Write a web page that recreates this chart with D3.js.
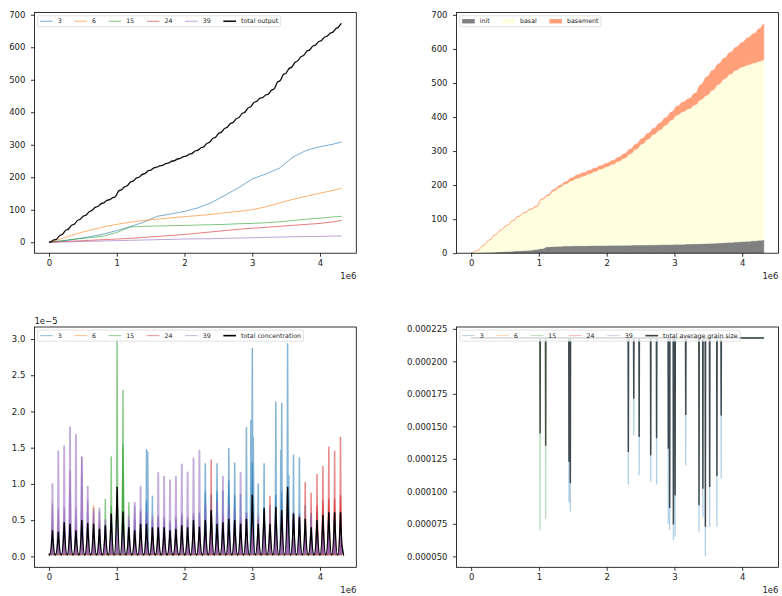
<!DOCTYPE html>
<html>
<head>
<meta charset="utf-8">
<script src="https://cdn.jsdelivr.net/npm/d3@7"></script>
<style>
  body { margin: 0; background: #fff; }
  svg { display: block; }
  text { font-family: "DejaVu Sans", sans-serif; }
</style>
</head>
<body>
<svg id="fig" width="782" height="596"></svg>
<script>
// ---- series labels / colours -------------------------------------------
const seriesLabels = ["3", "6", "15", "24", "39"];
const seriesColors = ["#1f77b4", "#ff7f0e", "#2ca02c", "#d62728", "#9467bd"];
const xTicks = [0, 1, 2, 3, 4];          // time, units of 1e6
const tEnd = 4.32;

// ---- cumulative output per grain size (time in 1e6) ---------------------
const outTimes = [0, 0.2, 0.4, 0.6, 0.8, 1.0, 1.2, 1.4, 1.6, 1.8, 2.0, 2.2, 2.4, 2.6, 2.8, 3.0, 3.2, 3.4, 3.6, 3.8, 4.0, 4.2, 4.32];
const out3  = [0, 4, 10, 17, 25, 36, 48, 62, 80, 87, 95, 106, 122, 145, 168, 195, 210, 228, 262, 283, 294, 302, 309];
const out6  = [0, 12, 26, 37, 47, 55, 62, 67, 71, 75, 79, 82, 86, 91, 95, 100, 109, 121, 132, 142, 151, 160, 166];
const out15 = [0, 5, 10, 14, 19, 30, 47, 49, 50, 51, 52, 53, 54, 55, 57, 58, 60, 63, 67, 71, 74, 78, 80];
const out24 = [0, 2, 4, 6, 8, 10, 12, 15, 18, 21, 24, 28, 32, 36, 40, 43, 46, 49, 52, 55, 58, 63, 67];
const out39 = [0, 1, 2, 3, 4, 5, 6, 7, 8, 9, 10, 10.5, 11, 12, 13, 14, 15, 16, 17, 17.5, 18, 19, 19.5];

// total output, sampled between consecutive pulses
const totalTimes = [0, 0.093, 0.180, 0.267, 0.354, 0.441, 0.527, 0.614, 0.701, 0.788, 0.875, 0.961, 1.048, 1.135, 1.222, 1.308, 1.395, 1.482, 1.569, 1.656, 1.743, 1.829, 1.916, 2.003, 2.090, 2.177, 2.263, 2.350, 2.437, 2.524, 2.611, 2.697, 2.784, 2.871, 2.958, 3.044, 3.131, 3.218, 3.305, 3.392, 3.478, 3.565, 3.652, 3.739, 3.826, 3.912, 3.999, 4.086, 4.173, 4.259, 4.320];
const totalOutput = [0, 8, 23, 39, 54, 69, 82, 96, 109, 120, 130, 138, 160, 172, 187, 199, 210, 221, 230, 236, 243, 250, 257, 264, 272, 282, 292, 306, 321, 337, 352, 367, 382, 398, 415, 432, 444, 454, 470, 495, 518, 537, 556, 573, 590, 605, 619, 633, 645, 660, 673];

// output by source (stacked), same sampling as totalOutput
const initVol     = [0, 0.5, 1, 2, 3, 4, 5, 6, 7, 8, 9, 11, 14, 19, 20, 20.5, 21, 21.5, 21.8, 22, 22.2, 22.4, 22.6, 22.8, 23, 23.2, 23.4, 23.6, 23.8, 24, 24.3, 24.6, 24.9, 25.2, 25.5, 26, 26.5, 27, 27.5, 28, 28.5, 29.2, 30, 31, 32, 33, 34, 35, 36.5, 38, 39];
const basalVol    = [0, 7.5, 22, 36.5, 50.5, 64, 76, 89, 101, 110.5, 119.5, 125, 144, 150, 163, 173.5, 183, 191.5, 198.2, 204, 210.8, 217.6, 224.4, 231.2, 238, 246.8, 255.6, 268.4, 282.2, 297, 310.7, 324.4, 337.1, 350.8, 365.5, 380, 389.5, 397, 408.5, 423, 435.5, 449.8, 466, 481, 494, 505, 513, 518, 522, 526, 529];
const basementVol = [0, 0, 0, 0.5, 0.5, 1, 1, 1, 1, 1.5, 1.5, 2, 2, 3, 4, 5, 6, 8, 10, 10, 10, 10, 10, 10, 11, 12, 13, 14, 15, 16, 17, 18, 20, 22, 24, 26, 28, 30, 34, 44, 54, 58, 60, 61, 64, 67, 72, 80, 86.5, 96, 105];
const stackLabels = ["init", "basal", "basement"];
const stackColors = ["#808080", "#ffffe0", "#ffa07a"];

// ---- concentration pulses (values in 1e-5) -------------------------------
const cycleTimes = [0.050, 0.137, 0.224, 0.310, 0.397, 0.484, 0.571, 0.658, 0.744, 0.831, 0.918, 1.005, 1.092, 1.178, 1.265, 1.352, 1.439, 1.526, 1.612, 1.699, 1.786, 1.873, 1.960, 2.046, 2.133, 2.220, 2.307, 2.394, 2.480, 2.567, 2.654, 2.741, 2.828, 2.914, 3.001, 3.088, 3.175, 3.262, 3.348, 3.435, 3.522, 3.609, 3.696, 3.782, 3.869, 3.956, 4.043, 4.130, 4.216, 4.303];
const conc3  = [0.30, 0.30, 0.35, 0.35, 0.30, 0.40, 0.35, 0.35, 0.30, 0.35, 0.35, 0.40, 0.45, 0.45, 0.50, 0.60, 1.47, 0.83, 0.55, 0.50, 0.45, 0.50, 0.55, 0.50, 0.55, 0.60, 1.28, 0.85, 1.28, 0.90, 1.49, 1.29, 0.85, 1.78, 2.87, 1.00, 1.28, 0.70, 2.13, 2.11, 2.93, 1.40, 1.36, 0.70, 0.60, 0.60, 0.55, 0.60, 0.60, 0.55];
const conc6  = [0.30, 0.30, 0.30, 0.30, 0.30, 0.45, 0.40, 0.70, 0.45, 0.30, 0.30, 0.30, 0.30, 0.30, 0.30, 0.30, 0.30, 0.30, 0.30, 0.30, 0.30, 0.30, 0.30, 0.30, 0.30, 0.30, 0.30, 0.30, 0.30, 0.30, 0.30, 0.30, 0.30, 0.30, 0.35, 0.30, 0.30, 0.30, 0.35, 0.35, 0.35, 0.30, 0.30, 0.30, 0.30, 0.30, 0.30, 0.30, 0.30, 0.30];
const conc15 = [0.25, 0.25, 0.25, 0.25, 0.25, 0.25, 0.25, 0.25, 0.30, 0.79, 1.37, 3.015, 2.29, 0.74, 0.30, 0.25, 0.25, 0.25, 0.20, 0.20, 0.20, 0.20, 0.20, 0.20, 0.20, 0.20, 0.20, 0.20, 0.20, 0.20, 0.20, 0.20, 0.20, 0.20, 0.20, 0.20, 0.20, 0.20, 0.20, 0.20, 0.20, 0.20, 0.20, 0.20, 0.20, 0.20, 0.20, 0.20, 0.20, 0.20];
const conc24 = [0.15, 0.15, 0.15, 0.15, 0.15, 0.15, 0.15, 0.15, 0.15, 0.20, 0.20, 0.20, 0.20, 0.20, 0.20, 0.20, 0.25, 0.25, 0.25, 0.25, 0.25, 0.25, 0.30, 0.30, 0.30, 0.30, 0.35, 1.33, 0.40, 0.40, 0.45, 0.45, 0.45, 0.50, 0.50, 0.50, 0.50, 0.83, 0.50, 0.50, 0.55, 0.55, 0.55, 1.02, 0.87, 1.13, 1.24, 1.51, 1.45, 1.64];
const conc39 = [1.00, 1.45, 1.52, 1.78, 1.68, 1.37, 0.96, 0.66, 0.66, 0.50, 0.55, 0.45, 0.50, 0.55, 0.74, 0.96, 0.60, 0.55, 1.15, 1.10, 1.05, 1.10, 1.27, 1.16, 1.35, 1.46, 0.70, 0.60, 0.75, 1.10, 0.70, 0.65, 1.15, 0.60, 0.55, 0.55, 0.60, 0.55, 0.55, 0.60, 0.65, 0.60, 0.55, 0.50, 0.55, 0.50, 0.50, 0.50, 0.50, 0.45];
// second, lower and broader pulse inside the same cycle (null where absent)
const conc3Inner  = [null, null, null, null, null, null, null, null, null, null, null, null, null, null, null, null, 0.77, null, null, null, null, null, null, null, null, null, 0.90, null, 0.90, null, 1.05, 0.85, null, 0.60, 1.30, null, 0.65, null, 0.85, 0.90, 0.95, 0.60, 0.60, null, null, null, null, null, null, null];
const conc15Inner = [null, null, null, null, null, null, null, null, null, null, 0.70, 0.90, 1.55, null, null, null, null, null, null, null, null, null, null, null, null, null, null, null, null, null, null, null, null, null, null, null, null, null, null, null, null, null, null, null, null, null, null, null, null, null];
const conc24Inner = [null, null, null, null, null, null, null, null, null, null, null, null, null, null, null, null, null, null, null, null, null, null, null, null, null, null, null, 0.60, null, null, null, null, null, null, null, null, null, null, null, null, null, null, null, null, null, 0.70, 0.78, 0.80, 0.80, 0.85];
const conc39Inner = [0.73, 0.66, 0.68, 1.19, 0.66, 1.37, 0.77, 0.62, 0.62, 0.45, 0.45, 0.40, 0.45, 0.50, 0.70, 0.65, 0.50, 0.50, 0.55, 0.55, 0.50, 0.55, 0.60, 0.55, 0.60, 0.60, 0.55, 0.50, 0.55, 0.60, 0.55, 0.50, 0.55, 0.50, 0.45, 0.45, 0.50, 0.45, 0.45, 0.50, 0.50, 0.45, 0.45, 0.40, 0.45, 0.40, 0.40, 0.40, 0.40, 0.35];
// additional short pulses off the cycle times: [time, value]
const conc3Extra = [[1.457, 1.44], [2.980, 1.88], [3.016, 1.64], [3.422, 1.46], [3.540, 1.11]];
const concFloors = [0.025, 0.025, 0.025, 0.025, 0.035];
const concTotal = [0.36, 0.34, 0.47, 0.45, 0.36, 0.50, 0.46, 0.45, 0.38, 0.43, 0.59, 0.96, 0.62, 0.40, 0.36, 0.45, 0.45, 0.40, 0.40, 0.40, 0.36, 0.38, 0.43, 0.40, 0.50, 0.41, 0.50, 0.64, 0.45, 0.47, 0.52, 0.50, 0.45, 0.52, 0.85, 0.45, 0.67, 0.45, 0.68, 0.64, 0.96, 0.59, 0.54, 0.52, 0.40, 0.50, 0.57, 0.61, 0.61, 0.61];
const concValley = 0.02;
const concStart = 0.04;
const concEnd = 0.18;

// ---- average grain size: level and dips [time, value] --------------------
const grainLevel = 0.000218;
const grain3Dips = [[1.444, 0.0000917], [1.464, 0.0000845], [2.320, 0.0001052], [2.400, 0.000143], [2.480, 0.0001123], [2.650, 0.0001072], [2.737, 0.0001052], [2.910, 0.000075], [2.930, 0.0000702], [2.985, 0.0000625], [3.010, 0.000065], [3.167, 0.000120], [3.363, 0.0000689], [3.420, 0.000080], [3.457, 0.000050], [3.520, 0.0000727], [3.627, 0.0000727], [3.690, 0.0001098]];
const grain15Dips = [[1.018, 0.0000699], [1.100, 0.0000789]];
const grainTotalDips = [[1.018, 0.0001445], [1.100, 0.0001351], [1.444, 0.0001228], [1.464, 0.0001062], [2.320, 0.0001303], [2.400, 0.0001712], [2.480, 0.0001418], [2.650, 0.0001277], [2.737, 0.0001408], [2.910, 0.0001328], [2.930, 0.0000873], [2.985, 0.0000745], [3.010, 0.000097], [3.167, 0.0001588], [3.363, 0.0000893], [3.420, 0.0001021], [3.457, 0.0000727], [3.520, 0.0001034], [3.627, 0.0001118], [3.690, 0.0001583]];

// ---- layout --------------------------------------------------------------
const svg = d3.select("#fig");
const boxes = {
  out:   { l: 34.4,  r: 356.3, t: 12.6, b: 253.2 },
  stack: { l: 456.5, r: 778.5, t: 12.6, b: 253.2 },
  conc:  { l: 34.4,  r: 356.3, t: 327,  b: 567.3 },
  grain: { l: 456.5, r: 778.5, t: 327,  b: 567.3 }
};
const TICK_FS = 8.5, LEG_FS = 6.3, INK = "#222";

function padded(lo, hi) { const m = 0.05 * (hi - lo); return [lo - m, hi + m]; }

function clipFor(name, box) {
  svg.append("clipPath").attr("id", "clip-" + name)
    .append("rect").attr("x", box.l).attr("y", box.t)
    .attr("width", box.r - box.l).attr("height", box.b - box.t);
  return svg.append("g").attr("clip-path", `url(#clip-${name})`);
}

function styleAxis(sel) {
  sel.select(".domain").remove();
  sel.attr("font-family", "DejaVu Sans").attr("font-size", TICK_FS);
  sel.selectAll(".tick line").attr("stroke", "#000").attr("stroke-width", 0.8);
  sel.selectAll(".tick text").attr("fill", INK);
}

function drawAxes(box, x, y, yTicks, yFmt) {
  const g = svg.append("g");
  g.append("g").attr("transform", `translate(0,${box.b})`)
    .call(d3.axisBottom(x).tickValues(xTicks).tickFormat(d3.format("d")).tickSize(3.5).tickPadding(3.4))
    .call(styleAxis);
  g.append("g").attr("transform", `translate(${box.l},0)`)
    .call(d3.axisLeft(y).tickValues(yTicks).tickFormat(yFmt).tickSize(3.5).tickPadding(5.5))
    .call(styleAxis);
  g.append("rect").attr("x", box.l).attr("y", box.t)
    .attr("width", box.r - box.l).attr("height", box.b - box.t)
    .attr("fill", "none").attr("stroke", "#000").attr("stroke-width", 0.8);
  g.append("text").attr("x", box.r).attr("y", box.b + 25.5).attr("text-anchor", "end")
    .attr("font-size", TICK_FS).attr("fill", INK).text("1e6");
  return g;
}

function drawLegend(box, items) {
  const fs = LEG_FS, pad = 0.4 * fs, hl = 2 * fs, htp = 0.8 * fs, cs = 2 * fs;
  const x0 = box.l + 0.5 * fs, y0 = box.t + 0.5 * fs, h = 11, cy = y0 + h / 2;
  const g = svg.append("g");
  const frame = g.append("rect").attr("x", x0).attr("y", y0).attr("height", h).attr("rx", 1.5)
    .attr("fill", "#fff").attr("fill-opacity", 0.8).attr("stroke", "#cccccc").attr("stroke-width", 0.6);
  let x = x0 + pad;
  items.forEach(it => {
    if (it.kind === "patch") {
      g.append("rect").attr("x", x).attr("y", cy - 2.2).attr("width", hl).attr("height", 4.4).attr("fill", it.color);
    } else {
      g.append("line").attr("x1", x).attr("x2", x + hl).attr("y1", cy).attr("y2", cy)
        .attr("stroke", it.color).attr("stroke-opacity", it.opacity).attr("stroke-width", it.width);
    }
    const t = g.append("text").attr("x", x + hl + htp).attr("y", cy).attr("dy", "0.35em")
      .attr("font-size", fs).attr("fill", INK).text(it.label);
    x += hl + htp + t.node().getComputedTextLength() + cs;
  });
  frame.attr("width", x - cs + pad - x0);
}

const xDom = padded(0, tEnd);

// ---- panel 1: cumulative output -----------------------------------------
{
  const box = boxes.out;
  const x = d3.scaleLinear().domain(xDom).range([box.l, box.r]);
  const y = d3.scaleLinear().domain(padded(0, d3.max(totalOutput))).range([box.b, box.t]);
  const g = clipFor("out", box);
  const line = d3.line().x(d => x(d[0])).y(d => y(d[1]));
  [out3, out6, out15, out24, out39].forEach((vals, i) => {
    g.append("path").attr("d", line(outTimes.map((t, j) => [t, vals[j]])))
      .attr("fill", "none").attr("stroke", seriesColors[i]).attr("stroke-opacity", 0.6).attr("stroke-width", 1);
  });
  g.append("path").attr("d", line.curve(d3.curveBumpX)(totalTimes.map((t, j) => [t, totalOutput[j]])))
    .attr("fill", "none").attr("stroke", "#111").attr("stroke-width", 1.3);
  drawAxes(box, x, y, d3.range(0, 701, 100), d3.format("d"));
  drawLegend(box, seriesLabels.map((l, i) => ({ label: l, color: seriesColors[i], opacity: 0.6, width: 1 }))
    .concat([{ label: "total output", color: "#111", opacity: 1, width: 1.6 }]));
}

// ---- panel 2: stacked output by source -----------------------------------
{
  const box = boxes.stack;
  const x = d3.scaleLinear().domain(xDom).range([box.l, box.r]);
  const y = d3.scaleLinear().domain([0, padded(0, d3.max(totalOutput))[1]]).range([box.b, box.t]);
  const g = clipFor("stack", box);
  const rows = totalTimes.map((t, i) => ({ t, init: initVol[i], basal: basalVol[i], basement: basementVol[i] }));
  const layers = d3.stack().keys(stackLabels)(rows);
  const area = d3.area().curve(d3.curveBumpX).x(d => x(d.data.t)).y0(d => y(d[0])).y1(d => y(d[1]));
  layers.forEach((layer, i) => {
    g.append("path").attr("d", area(layer)).attr("fill", stackColors[i])
      .attr("stroke", stackColors[i]).attr("stroke-width", 0.5);
  });
  drawAxes(box, x, y, d3.range(0, 701, 100), d3.format("d"));
  drawLegend(box, stackLabels.map((l, i) => ({ label: l, kind: "patch", color: stackColors[i] })));
}

// ---- panel 3: concentration pulses --------------------------------------
{
  const box = boxes.conc;
  const concAll = [conc3, conc6, conc15, conc24, conc39, concTotal].flat();
  const x = d3.scaleLinear().domain(xDom).range([box.l, box.r]);
  const y = d3.scaleLinear().domain(padded(0, d3.max(concAll))).range([box.b, box.t]);
  const g = clipFor("conc", box);
  const line = d3.line().x(d => x(d[0])).y(d => y(d[1]));
  const half = 0.009, innerHalf = 0.022;
  const series = [
    { peaks: conc3,  inner: conc3Inner,  extra: conc3Extra },
    { peaks: conc6,  inner: null,        extra: [] },
    { peaks: conc15, inner: conc15Inner, extra: [] },
    { peaks: conc24, inner: conc24Inner, extra: [] },
    { peaks: conc39, inner: conc39Inner, extra: [] }
  ];
  series.forEach((s, i) => {
    const floor = concFloors[i];
    const pulses = cycleTimes.map((t, k) => [t, s.peaks[k]]).concat(s.extra).sort((a, b) => a[0] - b[0]);
    const pts = [[0, floor]];
    pulses.forEach(([t, v]) => pts.push([t - half, floor], [t, v], [t + half, floor]));
    pts.push([tEnd, floor]);
    g.append("path").attr("d", line(pts)).attr("fill", "none")
      .attr("stroke", seriesColors[i]).attr("stroke-opacity", 0.55)
      .attr("stroke-width", i === 4 ? 1.9 : 1.5).attr("stroke-linejoin", "round");
    if (s.inner) {
      const d = cycleTimes.map((t, k) => s.inner[k] == null ? "" :
        line([[t - innerHalf, floor], [t, s.inner[k]], [t + innerHalf, floor]])).join("");
      g.append("path").attr("d", d).attr("fill", seriesColors[i]).attr("fill-opacity", 0.55)
        .attr("stroke", seriesColors[i]).attr("stroke-opacity", 0.55).attr("stroke-width", 1.2);
    }
  });
  // total: pointed pulse tops with rounded troughs between them
  const ctrl = 0.02;
  let d = `M${x(0)},${y(concStart)}`;
  cycleTimes.forEach((t, k) => {
    const tv = t - 0.0434;
    d += `L${x(tv)},${y(concValley)}`;
    d += `Q${x(t - ctrl)},${y(concValley)} ${x(t)},${y(concTotal[k])}`;
    d += `Q${x(t + ctrl)},${y(concValley)} ${x(t + 0.0434)},${y(concValley)}`;
  });
  d += `L${x(tEnd)},${y(concEnd)}`;
  g.append("path").attr("d", d).attr("fill", "none").attr("stroke", "#000").attr("stroke-width", 1.4);
  drawAxes(box, x, y, d3.range(0, 7).map(i => i * 0.5), d3.format(".1f"));
  svg.append("text").attr("x", box.l).attr("y", box.t - 3.5).attr("font-size", TICK_FS)
    .attr("fill", INK).text("1e\u22125");
  drawLegend(box, seriesLabels.map((l, i) => ({ label: l, color: seriesColors[i], opacity: 0.5, width: 1 }))
    .concat([{ label: "total concentration", color: "#000", opacity: 1, width: 1.6 }]));
}

// ---- panel 4: average grain size ----------------------------------------
{
  const box = boxes.grain;
  const allVals = [grainLevel].concat(grain3Dips.map(d => d[1]), grain15Dips.map(d => d[1]), grainTotalDips.map(d => d[1]));
  const x = d3.scaleLinear().domain(xDom).range([box.l, box.r]);
  const y = d3.scaleLinear().domain(padded(d3.min(allVals), d3.max(allVals))).range([box.b, box.t]);
  const g = clipFor("grain", box);
  const line = d3.line().x(d => x(d[0])).y(d => y(d[1]));
  const half = 0.003;
  function dipPath(dips) {
    const pts = [[0, grainLevel]];
    dips.forEach(([t, v]) => pts.push([t - half, grainLevel], [t, v], [t + half, grainLevel]));
    pts.push([tEnd, grainLevel]);
    return line(pts);
  }
  g.append("path").attr("d", dipPath(grain3Dips)).attr("fill", "none")
    .attr("stroke", seriesColors[0]).attr("stroke-opacity", 0.35).attr("stroke-width", 1.3);
  g.append("path").attr("d", dipPath(grain15Dips)).attr("fill", "none")
    .attr("stroke", seriesColors[2]).attr("stroke-opacity", 0.35).attr("stroke-width", 1.3);
  g.append("path").attr("d", dipPath(grainTotalDips)).attr("fill", "none")
    .attr("stroke", "#000").attr("stroke-opacity", 0.65).attr("stroke-width", 1.5);
  drawAxes(box, x, y, d3.range(2, 10).map(i => i * 0.000025), d3.format(".6f"));
  drawLegend(box, seriesLabels.map((l, i) => ({ label: l, color: seriesColors[i], opacity: 0.35, width: 1 }))
    .concat([{ label: "total average grain size", color: "#000", opacity: 0.75, width: 1.6 }]));
}
</script>
</body>
</html>
